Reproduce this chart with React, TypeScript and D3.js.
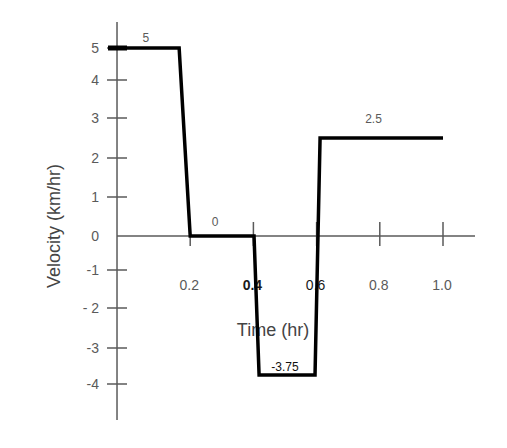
import React from "react";
import * as d3 from "d3";

const yTickValues = [5, 4, 3, 2, 1, 0, -1, -2, -3, -4];
const yTickLabels = ["5", "4", "3", "2", "1", "0", "-1", "- 2", "-3", "-4"];
const yTickPixels = [48, 80, 118, 158, 197, 236, 270, 308, 348, 384];
const xTickValues = [0.2, 0.4, 0.6, 0.8, 1.0];
const xTickLabels = ["0.2", "0.4", "0.6", "0.8", "1.0"];
const pathTimes = [-0.06, 0.165, 0.2, 0.402, 0.418, 0.595, 0.611, 1.0];
const pathVelocities = [5, 5, 0, 0, -3.75, -3.75, 2.5, 2.5];
const segmentLabels = ["5", "0", "-3.75", "2.5"];
const segmentLabelTimes = [0.06, 0.279, 0.5, 0.78];
const segmentLabelValues = [5, 0, -3.75, 2.5];

export default function App() {
  const x = d3.scaleLinear().domain([0, 1]).range([127, 443]);
  const y = d3.scaleLinear().domain(yTickValues).range(yTickPixels);
  const axisX = x(-0.0316);
  const axisY = y(0);
  const font = "'Liberation Sans', Arial, sans-serif";
  const grey = "#5a5a5a";
  const line = d3
    .line<number>()
    .x((_, i) => x(pathTimes[i]))
    .y((d) => y(d));
  const labelOffsets = [-6, -10, -4, -15];
  return (
    <svg
      width={507}
      height={448}
      style={{ position: "absolute", left: 0, top: 0, background: "#fff" }}
    >
      <rect width={507} height={448} fill="#fff" />
      <line x1={axisX} x2={axisX} y1={22} y2={420} stroke={grey} strokeWidth={1.5} />
      <line x1={axisX} x2={475} y1={axisY} y2={axisY} stroke={grey} strokeWidth={1.5} />
      {yTickValues.map((v, i) =>
        v === 0 ? null : (
          <line
            key={"yt" + i}
            x1={axisX - 10}
            x2={axisX + 10}
            y1={y(v)}
            y2={y(v)}
            stroke={grey}
            strokeWidth={1.5}
          />
        )
      )}
      {yTickValues.map((v, i) => (
        <text
          key={"yl" + i}
          x={99}
          y={y(v)}
          dy="0.36em"
          textAnchor="end"
          fontFamily={font}
          fontSize={14}
          fill={grey}
        >
          {yTickLabels[i]}
        </text>
      ))}
      {xTickValues.map((v, i) => (
        <line
          key={"xt" + i}
          x1={x(v)}
          x2={x(v)}
          y1={axisY - 14}
          y2={axisY + 10}
          stroke={grey}
          strokeWidth={1.5}
        />
      ))}
      {xTickValues.map((v, i) => (
        <text
          key={"xl" + i}
          x={x(v) - 1}
          y={290}
          textAnchor="middle"
          fontFamily={font}
          fontSize={14}
          fontWeight={i === 1 ? "bold" : "normal"}
          fill={i === 1 || i === 2 ? "#1a1a1a" : grey}
        >
          {xTickLabels[i]}
        </text>
      ))}
      <text
        x={273}
        y={336}
        textAnchor="middle"
        fontFamily={font}
        fontSize={18}
        fill="#444"
      >
        Time (hr)
      </text>
      <text
        transform={`translate(60,226) rotate(-90)`}
        textAnchor="middle"
        fontFamily={font}
        fontSize={18}
        fill="#444"
      >
        Velocity (km/hr)
      </text>
      <path
        d={line(pathVelocities) || ""}
        fill="none"
        stroke="#000"
        strokeWidth={3.5}
        strokeLinejoin="miter"
      />
      <line
        x1={x(pathTimes[0])}
        x2={axisX + 10}
        y1={y(pathVelocities[0])}
        y2={y(pathVelocities[0])}
        stroke="#000"
        strokeWidth={5}
      />
      {segmentLabels.map((s, i) => (
        <text
          key={"sl" + i}
          x={x(segmentLabelTimes[i])}
          y={y(segmentLabelValues[i]) + labelOffsets[i]}
          textAnchor="middle"
          fontFamily={font}
          fontSize={12}
          fill={i === 2 ? "#111" : grey}
        >
          {s}
        </text>
      ))}
    </svg>
  );
}
